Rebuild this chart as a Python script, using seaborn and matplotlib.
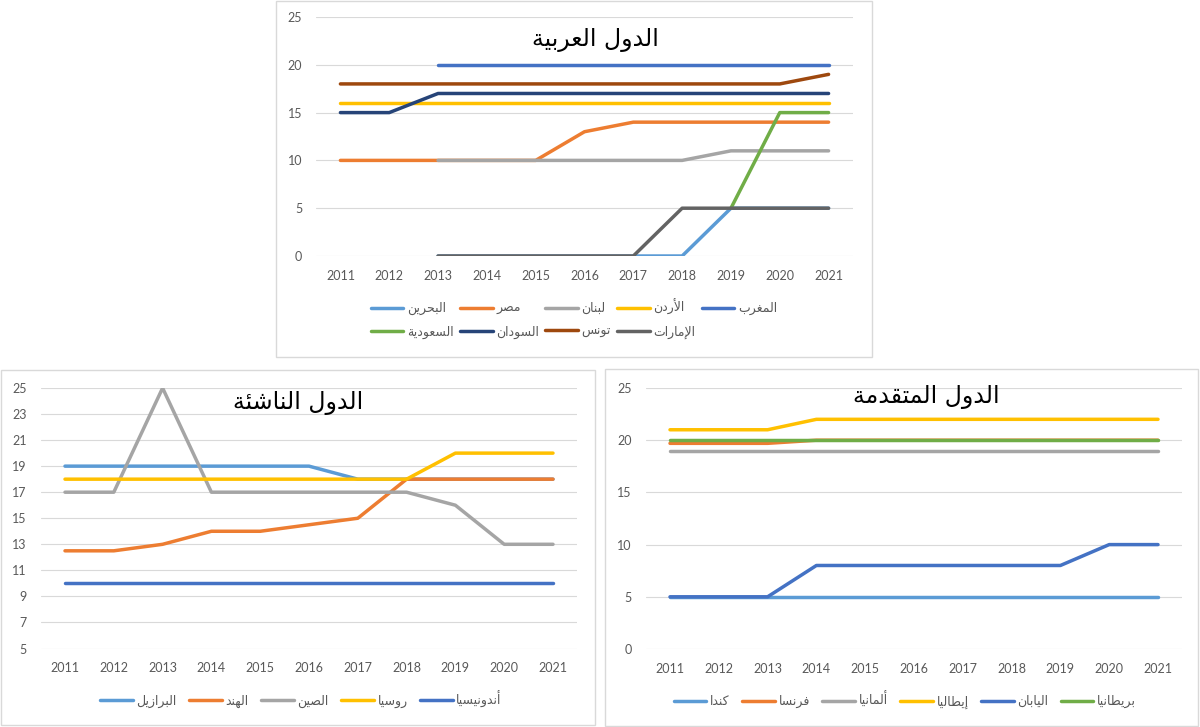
import numpy as np
import pandas as pd
import matplotlib
matplotlib.use("Agg")
import matplotlib.pyplot as plt
import seaborn as sns
from matplotlib.patches import Rectangle

# =========================
# Data
# =========================
years = [2011, 2012, 2013, 2014, 2015, 2016, 2017, 2018, 2019, 2020, 2021]

# Arab countries
arab_names = ["البحرين", "مصر", "لبنان", "الأردن", "المغرب",
              "السعودية", "السودان", "تونس", "الإمارات"]
bahrain = [None, None, 0, 0, 0, 0, 0, 0, 5, 5, 5]
egypt = [10, 10, 10, 10, 10, 13, 14, 14, 14, 14, 14]
lebanon = [None, None, 10, 10, 10, 10, 10, 10, 11, 11, 11]
jordan = [16, 16, 16, 16, 16, 16, 16, 16, 16, 16, 16]
morocco = [None, None, 20, 20, 20, 20, 20, 20, 20, 20, 20]
saudi = [None, None, None, None, None, None, None, None, 5, 15, 15]
sudan = [15, 15, 17, 17, 17, 17, 17, 17, 17, 17, 17]
tunisia = [18, 18, 18, 18, 18, 18, 18, 18, 18, 18, 19]
uae = [None, None, 0, 0, 0, 0, 0, 5, 5, 5, 5]

# Emerging countries
emerging_names = ["البرازيل", "الهند", "الصين", "روسيا", "أندونيسيا"]
brazil = [19, 19, 19, 19, 19, 19, 18, 18, 18, 18, 18]
india = [12.5, 12.5, 13, 14, 14, 14.5, 15, 18, 18, 18, 18]
china = [17, 17, 25, 17, 17, 17, 17, 17, 16, 13, 13]
russia = [18, 18, 18, 18, 18, 18, 18, 18, 20, 20, 20]
indonesia = [10, 10, 10, 10, 10, 10, 10, 10, 10, 10, 10]

# Advanced countries
advanced_names = ["كندا", "فرنسا", "ألمانيا", "إيطاليا", "اليابان", "بريطانيا"]
canada = [5, 5, 5, 5, 5, 5, 5, 5, 5, 5, 5]
france = [19.7, 19.7, 19.7, 20, 20, 20, 20, 20, 20, 20, 20]
germany = [19, 19, 19, 19, 19, 19, 19, 19, 19, 19, 19]
italy = [21, 21, 21, 22, 22, 22, 22, 22, 22, 22, 22]
japan = [5, 5, 5, 8, 8, 8, 8, 8, 8, 10, 10]
uk = [20, 20, 20, 20, 20, 20, 20, 20, 20, 20, 20]

titles = ["الدول العربية", "الدول الناشئة", "الدول المتقدمة"]

office = ["#5B9BD5", "#ED7D31", "#A5A5A5", "#FFC000", "#4472C4",
          "#70AD47", "#264478", "#9E480E", "#636363"]

# =========================
# Arabic shaping (matplotlib has no text shaping)
# =========================
DUAL = {'ئ': 0xFE89, 'ب': 0xFE8F, 'ت': 0xFE95, 'ث': 0xFE99, 'ج': 0xFE9D,
        'ح': 0xFEA1, 'خ': 0xFEA5, 'س': 0xFEB1, 'ش': 0xFEB5, 'ص': 0xFEB9,
        'ض': 0xFEBD, 'ط': 0xFEC1, 'ظ': 0xFEC5, 'ع': 0xFEC9, 'غ': 0xFECD,
        'ف': 0xFED1, 'ق': 0xFED5, 'ك': 0xFED9, 'ل': 0xFEDD, 'م': 0xFEE1,
        'ن': 0xFEE5, 'ه': 0xFEE9, 'ي': 0xFEF1}
RIGHT = {'آ': 0xFE81, 'أ': 0xFE83, 'ؤ': 0xFE85, 'إ': 0xFE87, 'ا': 0xFE8D,
         'ة': 0xFE93, 'د': 0xFEA9, 'ذ': 0xFEAB, 'ر': 0xFEAD, 'ز': 0xFEAF,
         'و': 0xFEED, 'ى': 0xFEEF}
LAM_ALEF = {'آ': 0xFEF5, 'أ': 0xFEF7, 'إ': 0xFEF9, 'ا': 0xFEFB}


def shape(text):
    units = []
    i = 0
    while i < len(text):
        c = text[i]
        if c == 'ل' and i + 1 < len(text) and text[i + 1] in LAM_ALEF:
            units.append((LAM_ALEF[text[i + 1]], 'R', c))
            i += 2
            continue
        if c in DUAL:
            units.append((DUAL[c], 'D', c))
        elif c in RIGHT:
            units.append((RIGHT[c], 'R', c))
        else:
            units.append((None, 'N', c))
        i += 1
    out = []
    for k, (b, kind, c) in enumerate(units):
        if kind == 'N':
            out.append(c)
            continue
        prev_j = k > 0 and units[k - 1][1] == 'D'
        next_j = kind == 'D' and k + 1 < len(units) and units[k + 1][1] in 'DR'
        if kind == 'R':
            code = b + 1 if prev_j else b
        else:
            code = b + (3 if prev_j and next_j else 1 if prev_j else 2 if next_j else 0)
        out.append(chr(code))
    return ''.join(out)[::-1]


def long_df(names, series):
    rows = []
    for n, vals in zip(names, series):
        for y, v in zip(years, vals):
            if v is not None:
                rows.append({"year": y, "country": n, "value": v})
    return pd.DataFrame(rows)


# =========================
# Style
# =========================
sns.set_style("white")
plt.rcParams['font.family'] = ['Lato', 'DejaVu Sans']

fig = plt.figure(figsize=(12, 7.27), dpi=100)
W, H = 1200, 727


def fr(x0, y0, x1, y1):
    # pixel box -> figure fraction [left, bottom, width, height]
    return [x0 / W, 1 - y1 / H, (x1 - x0) / W, (y1 - y0) / H]


# panel borders
for (x0, y0, x1, y1) in [(276, 1, 872, 357), (1, 370, 595, 725), (605, 369, 1198, 726)]:
    fig.patches.append(Rectangle((x0 / W, 1 - y1 / H), (x1 - x0) / W, (y1 - y0) / H,
                                 transform=fig.transFigure, fill=False,
                                 edgecolor="#D9D9D9", linewidth=1))

panels = [
    dict(names=arab_names,
         series=[bahrain, egypt, lebanon, jordan, morocco, saudi, sudan, tunisia, uae],
         box=(316, 17, 853, 256), ylim=(0, 25), yticks=np.arange(0, 26, 5),
         title=titles[0], title_xy=(595, 40), leg_xy=(574, 319), ncol=5, colsp=0.5),
    dict(names=emerging_names,
         series=[brazil, india, china, russia, indonesia],
         box=(40.6, 388, 577.4, 648.5), ylim=(5, 25), yticks=np.arange(5, 26, 2),
         title=titles[1], title_xy=(298, 403), leg_xy=(301, 699), ncol=5, colsp=1.0),
    dict(names=advanced_names,
         series=[canada, france, germany, italy, japan, uk],
         box=(645.6, 388, 1182.4, 649), ylim=(0, 25), yticks=np.arange(0, 26, 5),
         title=titles[2], title_xy=(926, 397), leg_xy=(905, 700), ncol=6, colsp=1.0),
]

for p in panels:
    ax = fig.add_axes(fr(*p["box"]))
    df = long_df(p["names"], p["series"])
    palette = dict(zip(p["names"], office))

    sns.lineplot(data=df, x="year", y="value", hue="country",
                 hue_order=p["names"], palette=palette,
                 linewidth=2.5, errorbar=None, ax=ax)

    handles, labels = ax.get_legend_handles_labels()
    ax.get_legend().remove()

    ax.set_xlim(2010.5, 2021.5)
    ax.set_ylim(*p["ylim"])
    ax.set_xticks(years)
    ax.set_yticks(p["yticks"])
    ax.set_xlabel("")
    ax.set_ylabel("")
    ax.grid(axis="y", color="#D9D9D9", linewidth=0.8)
    ax.set_axisbelow(True)
    for s in ax.spines.values():
        s.set_visible(False)
    ax.tick_params(axis="both", length=0, labelsize=9, labelcolor="#595959")
    ax.tick_params(axis="y", pad=10)
    ax.tick_params(axis="x", pad=10)

    # legend, filled row by row like Excel
    n = len(handles)
    ncol = p["ncol"]
    nrows = int(np.ceil(n / ncol))
    order = []
    for c in range(ncol):
        for r in range(nrows):
            k = r * ncol + c
            if k < n:
                order.append(k)
    for h in handles:
        h.set_linewidth(2.5)
    fig.legend([handles[k] for k in order], [shape(labels[k]) for k in order],
               loc="center", bbox_to_anchor=(p["leg_xy"][0] / W, 1 - p["leg_xy"][1] / H),
               ncol=ncol, frameon=False, fontsize=9, labelcolor="#595959",
               handlelength=2.6, handletextpad=0.3, columnspacing=p["colsp"],
               labelspacing=0.8)

    fig.text(p["title_xy"][0] / W, 1 - p["title_xy"][1] / H, shape(p["title"]),
             ha="center", va="center", fontsize=17, color="black",
             family=["DejaVu Sans"])

fig.savefig("out.png", dpi=100, facecolor="white")
